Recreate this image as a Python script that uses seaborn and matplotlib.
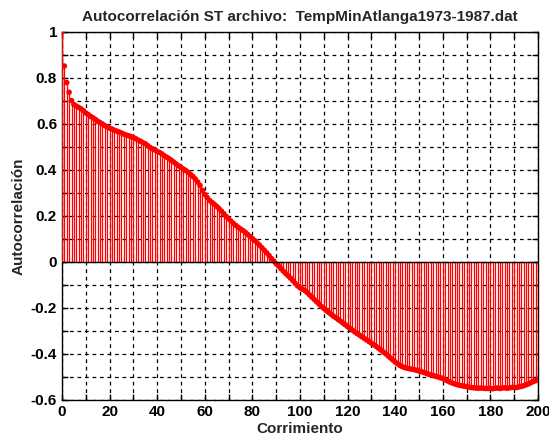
import numpy as np
import pandas as pd
import matplotlib
matplotlib.use("Agg")
import matplotlib.pyplot as plt
import seaborn as sns
from matplotlib.ticker import MultipleLocator

lags = list(range(0, 201))
acf = [
    1.000, 0.852, 0.780, 0.738, 0.702, 0.685, 0.678, 0.672, 0.666, 0.658,
    0.648, 0.641, 0.633, 0.627, 0.620, 0.612, 0.606, 0.600, 0.593, 0.588,
    0.582, 0.578, 0.573, 0.569, 0.565, 0.561, 0.556, 0.552, 0.549, 0.545,
    0.541, 0.536, 0.530, 0.525, 0.519, 0.514, 0.506, 0.498, 0.492, 0.487,
    0.481, 0.476, 0.470, 0.462, 0.456, 0.449, 0.442, 0.434, 0.426, 0.418,
    0.411, 0.404, 0.398, 0.390, 0.381, 0.372, 0.361, 0.348, 0.333, 0.312,
    0.294, 0.280, 0.268, 0.259, 0.251, 0.242, 0.232, 0.221, 0.210, 0.198,
    0.188, 0.178, 0.168, 0.159, 0.151, 0.144, 0.137, 0.129, 0.120, 0.111,
    0.102, 0.093, 0.083, 0.073, 0.062, 0.051, 0.040, 0.028, 0.015, 0.004,
    -0.008, -0.018, -0.029, -0.040, -0.050, -0.060, -0.070, -0.081, -0.093, -0.104,
    -0.112, -0.118, -0.124, -0.133, -0.143, -0.153, -0.163, -0.173, -0.183, -0.193,
    -0.202, -0.211, -0.219, -0.227, -0.235, -0.242, -0.250, -0.257, -0.265, -0.273,
    -0.281, -0.289, -0.296, -0.304, -0.311, -0.318, -0.325, -0.332, -0.339, -0.346,
    -0.353, -0.360, -0.367, -0.375, -0.383, -0.391, -0.399, -0.408, -0.417, -0.426,
    -0.435, -0.443, -0.450, -0.455, -0.459, -0.462, -0.464, -0.466, -0.468, -0.471,
    -0.474, -0.477, -0.480, -0.484, -0.488, -0.491, -0.494, -0.497, -0.500, -0.503,
    -0.507, -0.512, -0.517, -0.522, -0.526, -0.530, -0.533, -0.536, -0.538, -0.540,
    -0.542, -0.544, -0.546, -0.547, -0.548, -0.549, -0.548, -0.549, -0.550, -0.550,
    -0.549, -0.551, -0.549, -0.548, -0.550, -0.548, -0.547, -0.549, -0.547, -0.546,
    -0.545, -0.546, -0.543, -0.541, -0.538, -0.534, -0.530, -0.525, -0.520, -0.516,
    -0.512,
]
title = "Autocorrelación ST archivo:  TempMinAtlanga1973-1987.dat"
xlabel = "Corrimiento"
ylabel = "Autocorrelación"

df = pd.DataFrame({"lag": lags, "acf": acf})

sns.set_style("white")
plt.rcParams["font.family"] = ["Liberation Sans", "DejaVu Sans"]

fig = plt.figure(figsize=(5.49, 4.43), dpi=100)
ax = fig.add_axes([0.1129, 0.0971, 0.867, 0.8307])

ax.vlines(df["lag"], 0, df["acf"], color="#ff0000", linewidth=0.9, zorder=3)
sns.scatterplot(data=df, x="lag", y="acf", ax=ax, color="#ff0000", s=16,
                marker="o", edgecolor="none", linewidth=0, zorder=4)
ax.axhline(0, color="black", linewidth=1.0, zorder=5)

ax.set_xlim(0, 200)
ax.set_ylim(-0.6, 1.0)
ax.xaxis.set_major_locator(MultipleLocator(20))
ax.xaxis.set_minor_locator(MultipleLocator(10))
ax.yaxis.set_major_locator(MultipleLocator(0.2))
ax.yaxis.set_minor_locator(MultipleLocator(0.1))
ax.set_yticklabels([("%g" % v) for v in ax.get_yticks()])
ax.grid(which="both", color="black", linestyle=(0, (3, 3)), linewidth=0.9, zorder=1)
ax.set_axisbelow(True)
ax.tick_params(which="both", direction="in", length=4, width=1, colors="black",
               top=True, right=True, bottom=True, left=True)
ax.tick_params(which="major", labelsize=11)
for lbl in ax.get_xticklabels() + ax.get_yticklabels():
    lbl.set_fontweight("bold")
for sp in ax.spines.values():
    sp.set_color("black")
    sp.set_linewidth(1.0)
    sp.set_visible(True)

ax.set_xlabel(xlabel, fontsize=11, fontweight="bold", labelpad=2)
ax.set_ylabel(ylabel, fontsize=11, fontweight="bold", labelpad=4)
ax.set_title(title, fontsize=11, fontweight="bold", pad=8)

fig.savefig("out.png", dpi=100)
